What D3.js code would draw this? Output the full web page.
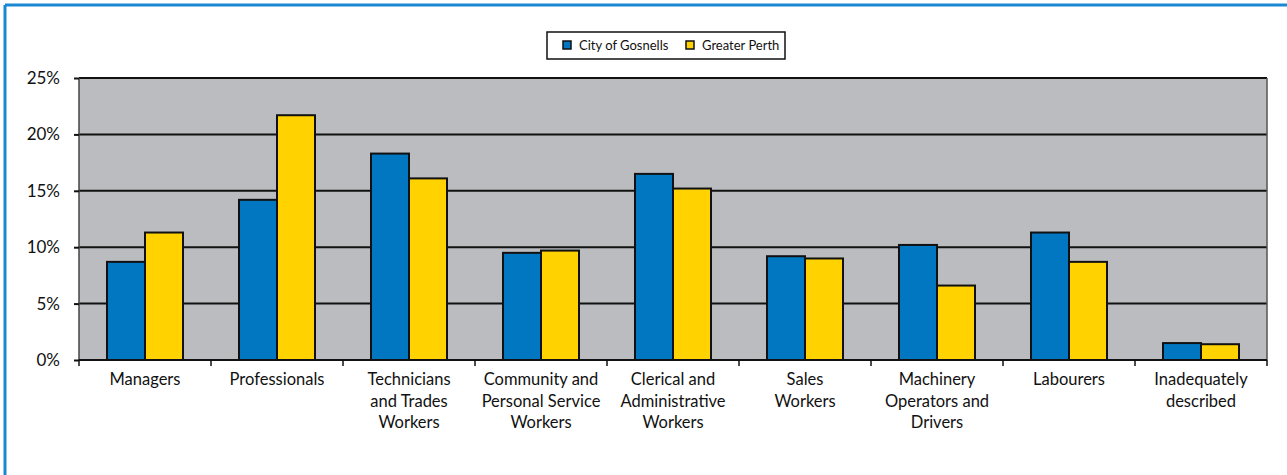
<!DOCTYPE html>
<html>
<head>
<meta charset="utf-8">
<script src="https://cdn.jsdelivr.net/npm/d3@7"></script>
<style>
  html, body { margin: 0; padding: 0; background: #fff; }
  svg { display: block; }
  text { font-family: Lato, "Noto Sans", sans-serif; fill: #111; }
</style>
</head>
<body>
<svg id="chart" width="1287" height="475"></svg>
<script>
const categories = [
  ["Managers"],
  ["Professionals"],
  ["Technicians", "and Trades", "Workers"],
  ["Community and", "Personal Service", "Workers"],
  ["Clerical and", "Administrative", "Workers"],
  ["Sales", "Workers"],
  ["Machinery", "Operators and", "Drivers"],
  ["Labourers"],
  ["Inadequately", "described"]
];
const seriesNames = ["City of Gosnells", "Greater Perth"];
const gosnells = [8.7, 14.2, 18.3, 9.5, 16.5, 9.2, 10.2, 11.3, 1.5];
const perth    = [11.3, 21.7, 16.1, 9.7, 15.2, 9.0, 6.6, 8.7, 1.4];
const yTicks = [0, 5, 10, 15, 20, 25];
const colors = ["#0077c0", "#ffd200"];

const svg = d3.select("#chart");
const m = { left: 79, right: 1267, top: 78, bottom: 360 };

// outer frame (top and left blue lines)
svg.append("line").attr("x1", 5).attr("x2", 1287).attr("y1", 5).attr("y2", 5)
  .attr("stroke", "#1a87d2").attr("stroke-width", 3);
svg.append("line").attr("x1", 5).attr("x2", 5).attr("y1", 5).attr("y2", 475)
  .attr("stroke", "#1a87d2").attr("stroke-width", 3);

const idx = d3.range(categories.length);
const x = d3.scaleBand().domain(idx).range([m.left, m.right]).paddingInner(0.4242).paddingOuter(0.2121);
const x0 = d3.scaleBand().domain(idx).range([m.left, m.right]);
const xs = d3.scaleBand().domain([0, 1]).range([0, x.bandwidth()]);
const y = d3.scaleLinear().domain([0, 25]).range([m.bottom, m.top]);

// plot background
svg.append("rect").attr("x", m.left).attr("y", m.top)
  .attr("width", m.right - m.left).attr("height", m.bottom - m.top)
  .attr("fill", "#bbbcc0");

// gridlines
svg.append("g").selectAll("line").data(yTicks.filter(t => t > 0)).join("line")
  .attr("x1", m.left).attr("x2", m.right)
  .attr("y1", d => y(d)).attr("y2", d => y(d))
  .attr("stroke", "#111").attr("stroke-width", 2);

// side borders
svg.append("line").attr("x1", m.left).attr("x2", m.left).attr("y1", m.top).attr("y2", m.bottom)
  .attr("stroke", "#444").attr("stroke-width", 1.5);
svg.append("line").attr("x1", m.right).attr("x2", m.right).attr("y1", m.top).attr("y2", m.bottom)
  .attr("stroke", "#555").attr("stroke-width", 1.5);

// bars
const data = [gosnells, perth];
data.forEach((vals, s) => {
  svg.append("g").selectAll("rect").data(vals).join("rect")
    .attr("x", (d, i) => x(i) + xs(s))
    .attr("y", d => y(d))
    .attr("width", xs.bandwidth())
    .attr("height", d => y(0) - y(d))
    .attr("fill", colors[s])
    .attr("stroke", "#111").attr("stroke-width", 2);
});

// y axis
const yAxis = svg.append("g").attr("transform", `translate(${m.left},0)`)
  .call(d3.axisLeft(y).tickValues(yTicks).tickFormat(d => d + "%").tickSize(5).tickPadding(14));
yAxis.select(".domain").remove();
yAxis.selectAll(".tick line").attr("stroke", "#111").attr("stroke-width", 2);
yAxis.selectAll("text").style("font-size", "17px").style("font-family", "Lato, sans-serif").attr("fill", "#111");

// x axis line + ticks
const xAxis = svg.append("g").attr("transform", `translate(0,${m.bottom})`)
  .call(d3.axisBottom(x0).tickValues(d3.range(0, categories.length)).tickSize(6).tickFormat(""));
xAxis.select(".domain").attr("stroke", "#111").attr("stroke-width", 2).attr("d", `M${m.left},0H${m.right}`);
xAxis.selectAll(".tick").attr("transform", d => `translate(${x0(d)},0)`);
xAxis.selectAll(".tick line").attr("stroke", "#111").attr("stroke-width", 1.5);
// extra tick at right end
xAxis.append("line").attr("x1", m.right).attr("x2", m.right).attr("y1", 0).attr("y2", 6)
  .attr("stroke", "#111").attr("stroke-width", 1.5);

// category labels
const labels = svg.append("g");
categories.forEach((lines, i) => {
  const t = labels.append("text")
    .attr("x", x0(i) + x0.bandwidth() / 2)
    .attr("y", 385)
    .attr("text-anchor", "middle")
    .style("font-size", "16.5px");
  lines.forEach((ln, k) => {
    t.append("tspan").attr("x", x0(i) + x0.bandwidth() / 2).attr("dy", k === 0 ? 0 : 21.7).text(ln);
  });
});

// legend
const lg = svg.append("g");
lg.append("rect").attr("x", 547).attr("y", 32).attr("width", 238).attr("height", 27)
  .attr("fill", "#fff").attr("stroke", "#111").attr("stroke-width", 1.5);
const legendX = [563, 686];
seriesNames.forEach((name, s) => {
  lg.append("rect").attr("x", legendX[s]).attr("y", 41).attr("width", 8).attr("height", 8)
    .attr("fill", colors[s]).attr("stroke", "#111").attr("stroke-width", 1.5);
  lg.append("text").attr("x", legendX[s] + 16).attr("y", 50)
    .style("font-size", "13px").text(name);
});
</script>
</body>
</html>
